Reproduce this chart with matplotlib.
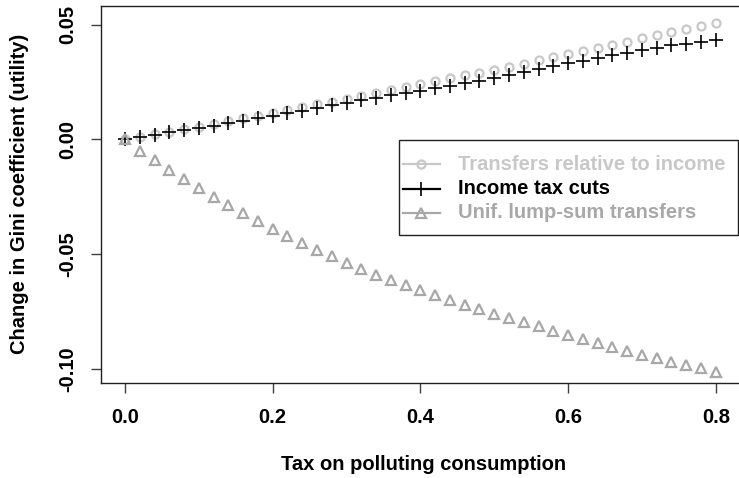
import matplotlib
matplotlib.use("Agg")
import matplotlib.pyplot as plt
from matplotlib.lines import Line2D
from matplotlib.patches import Rectangle

plt.rcParams['font.family'] = ['Liberation Sans', 'DejaVu Sans']
plt.rcParams['font.weight'] = 'bold'

tax = [round(0.02 * i, 2) for i in range(41)]

transfers_income = [
    0.0000, 0.0011, 0.0022, 0.0034, 0.0045, 0.0056, 0.0068, 0.0080, 0.0092, 0.0104,
    0.0117, 0.0129, 0.0141, 0.0153, 0.0165, 0.0177, 0.0189, 0.0201, 0.0214, 0.0227,
    0.0240, 0.0253, 0.0266, 0.0279, 0.0292, 0.0305, 0.0318, 0.0331, 0.0345, 0.0358,
    0.0372, 0.0386, 0.0399, 0.0413, 0.0427, 0.0441, 0.0455, 0.0469, 0.0483, 0.0495,
    0.0507]

income_tax_cuts = [
    0.0000, 0.0011, 0.0021, 0.0031, 0.0040, 0.0050, 0.0060, 0.0070, 0.0081, 0.0092,
    0.0104, 0.0115, 0.0126, 0.0138, 0.0149, 0.0160, 0.0172, 0.0182, 0.0192, 0.0202,
    0.0212, 0.0223, 0.0233, 0.0245, 0.0257, 0.0268, 0.0280, 0.0294, 0.0307, 0.0319,
    0.0332, 0.0344, 0.0355, 0.0367, 0.0379, 0.0390, 0.0400, 0.0410, 0.0418, 0.0425,
    0.0434]

lump_sum = [
    0.0000, -0.0050, -0.0090, -0.0132, -0.0173, -0.0212, -0.0249, -0.0285, -0.0320, -0.0355,
    -0.0389, -0.0421, -0.0452, -0.0482, -0.0510, -0.0537, -0.0563, -0.0589, -0.0613, -0.0636,
    -0.0658, -0.0679, -0.0700, -0.0720, -0.0740, -0.0759, -0.0778, -0.0797, -0.0815, -0.0834,
    -0.0851, -0.0869, -0.0887, -0.0906, -0.0922, -0.0938, -0.0953, -0.0968, -0.0984, -0.0998,
    -0.1013]

labels = ["Transfers relative to income", "Income tax cuts", "Unif. lump-sum transfers"]
x_ticks = [0.0, 0.2, 0.4, 0.6, 0.8]
x_ticklabels = ["0.0", "0.2", "0.4", "0.6", "0.8"]
y_ticks = [-0.10, -0.05, 0.00, 0.05]
y_ticklabels = ["-0.10", "-0.05", "0.00", "0.05"]

C_LIGHT = "#c8c8c8"
C_BLACK = "#000000"
C_MID = "#a8a8a8"
FS = 14.5

W, H = 739, 478
fig = plt.figure(figsize=(W / 100, H / 100), dpi=100)
ax = fig.add_axes([101.4 / W, (H - 383.3) / H, 638.0 / W, (383.3 - 6) / H])

styles = [
    dict(marker='o', ms=5.8, mfc='none', mec=C_LIGHT, mew=1.6, color=C_LIGHT),
    dict(marker='+', ms=9.5, mew=1.2, mec=C_BLACK, color=C_BLACK),
    dict(marker='^', ms=7.0, mfc='none', mec=C_MID, mew=1.6, color=C_MID),
]
series = [transfers_income, income_tax_cuts, lump_sum]
for s, st in zip(series, styles):
    ax.plot(tax, s, linestyle='none', **st)

ax.set_xlim(-0.032, 0.832)
ax.set_ylim(-0.1063, 0.0582)
ax.set_xticks(x_ticks)
ax.set_xticklabels(x_ticklabels)
ax.set_yticks(y_ticks)
ax.set_yticklabels(y_ticklabels)
ax.tick_params(axis='both', direction='out', length=7.5, width=1.0, color='#404040',
               labelsize=FS, pad=10)
for lab in ax.get_yticklabels():
    lab.set_rotation(90)
    lab.set_va('center')
for sp in ax.spines.values():
    sp.set_linewidth(1.0)
    sp.set_color('#202020')
ax.spines['right'].set_visible(False)

ax.set_xlabel("Tax on polluting consumption", fontsize=FS, fontweight='bold')
ax.set_ylabel("Change in Gini coefficient (utility)", fontsize=FS, fontweight='bold')
ax.xaxis.set_label_coords((424 - 101.4) / 638.0, (383.3 - 465) / 377.3)
ax.xaxis.label.set_va('center')
ax.yaxis.set_label_coords((20 - 101.4) / 638.0, (383.3 - 194) / 377.3)
ax.yaxis.label.set_va('center')

# Legend (drawn manually to match the R legend layout)
def fx(px):
    return px / W

def fy(py):
    return (H - py) / H

fig.patches.append(Rectangle((fx(399.3), fy(235)), fx(738.3) - fx(399.3), fy(140) - fy(235),
                             transform=fig.transFigure, fill=True, facecolor='white',
                             edgecolor='#202020', linewidth=1.0, zorder=5))
rows = [164, 188.5, 213]
text_colors = [C_LIGHT, C_BLACK, C_MID]
for lab, st, ry, tc in zip(labels, styles, rows, text_colors):
    fig.add_artist(Line2D([fx(403), fx(440)], [fy(ry), fy(ry)], color=st['color'],
                          lw=1.6, transform=fig.transFigure, zorder=6))
    mk = {k: v for k, v in st.items() if k != 'color'}
    fig.add_artist(Line2D([fx(421.5)], [fy(ry)], linestyle='none', transform=fig.transFigure,
                          zorder=7, **mk))
    fig.text(fx(458), fy(ry), lab, color=tc, fontsize=FS, fontweight='bold',
             ha='left', va='center', zorder=8)

fig.savefig("out.png", dpi=100)
